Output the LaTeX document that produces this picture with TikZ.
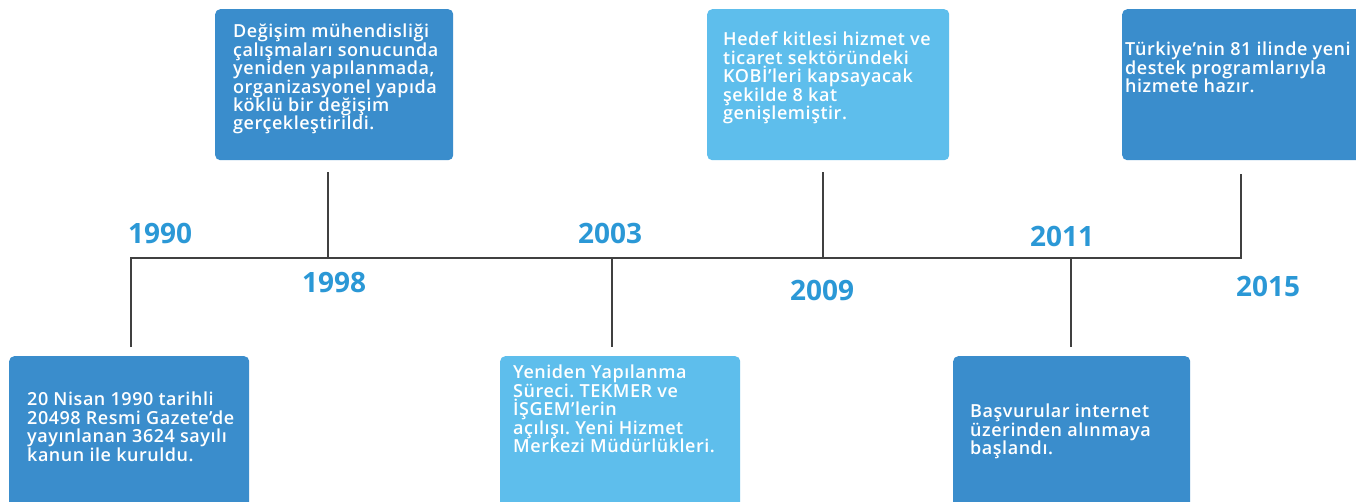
\documentclass[tikz,border=0pt]{standalone}
\usepackage{fontspec}
\setmainfont{Open Sans}
\newfontfamily\boxfont{Open Sans}[BoldFont={Open Sans Semibold}, LetterSpace=3]
\usepackage{tikz}
\usetikzlibrary{positioning,calc}
\definecolor{tlblue}{RGB}{58,141,204}
\definecolor{tllightblue}{RGB}{94,190,236}
\definecolor{tlyear}{RGB}{43,152,214}
\definecolor{tlgray}{RGB}{64,64,64}
\tikzstyle{darkbox} = [rectangle, rounded corners=5pt, fill=tlblue, anchor=north west, inner sep=0pt]
\tikzstyle{lightbox} = [darkbox, fill=tllightblue]
\tikzstyle{boxtext} = [anchor=north west, align=left, inner sep=0pt, text=white, font=\boxfont\bfseries\fontsize{18}{18.4}\selectfont]
\tikzstyle{yearlabel} = [text=tlyear, inner sep=0pt, font=\bfseries\fontsize{28}{30}\selectfont]
\tikzstyle{tickline} = [line width=2.2pt, color=tlgray]
\frenchspacing

\begin{document}
\begin{tikzpicture}[x=1pt,y=-1pt]
\clip (0,0) rectangle (1356,502);
\fill[white] (0,0) rectangle (1356,502);

% time line
\coordinate (t1990) at (131,258);
\coordinate (t1998) at (328,258);
\coordinate (t2003) at (612,258);
\coordinate (t2009) at (823,258);
\coordinate (t2011) at (1071,258);
\coordinate (t2015) at (1241,258);
\coordinate (e1990) at (131,347);
\coordinate (e1998) at (328,172);
\coordinate (e2003) at (612,347);
\coordinate (e2009) at (823,172);
\coordinate (e2011) at (1071,347);
\coordinate (e2015) at (1241,174);
\draw[tickline] (e1990) -- (t1990) -- (t2015) -- (e2015);
\draw[tickline] (t1998) -- (e1998);
\draw[tickline] (t2003) -- (e2003);
\draw[tickline] (t2009) -- (e2009);
\draw[tickline] (t2011) -- (e2011);

% years
\node[yearlabel] (y1990) at (160,233) {1990};
\node[yearlabel] (y1998) at (334,283) {1998};
\node[yearlabel] (y2003) at (610,233) {2003};
\node[yearlabel] (y2009) at (822,290) {2009};
\node[yearlabel] (y2011) at (1062,236) {2011};
\node[yearlabel] (y2015) at (1268,286) {2015};

% 1990
\node[darkbox, minimum width=240, minimum height=170] (b1990) at (9,356) {};
\node[boxtext] (x1990) at ([shift={(18,36)}]b1990.north west)
  {20 Nisan 1990 tarihli\\20498 Resmi Gazete’de\\yayınlanan 3624 sayılı\\kanun ile kuruldu.};

% 1998
\node[darkbox, minimum width=238, minimum height=151] (b1998) at (215,9) {};
\node[boxtext] (x1998) at ([shift={(18,15)}]b1998.north west)
  {Değişim mühendisliği\\çalışmaları sonucunda\\yeniden yapılanmada,\\organizasyonel yapıda\\köklü bir değişim\\gerçekleştirildi.};

% 2003
\node[lightbox, minimum width=240, minimum height=170] (b2003) at (500,356) {};
\node[boxtext] (x2003) at ([shift={(13,9)}]b2003.north west)
  {Yeniden Yapılanma\\Süreci. TEKMER ve\\İŞGEM’lerin\\açılışı. Yeni Hizmet\\Merkezi Müdürlükleri.};

% 2009
\node[lightbox, minimum width=242, minimum height=151] (b2009) at (707,9) {};
\node[boxtext] (x2009) at ([shift={(16,23)}]b2009.north west)
  {Hedef kitlesi hizmet ve\\ticaret sektöründeki\\KOBİ’leri kapsayacak\\şekilde 8 kat\\genişlemiştir.};

% 2011
\node[darkbox, minimum width=237, minimum height=170] (b2011) at (953,356) {};
\node[boxtext] (x2011) at ([shift={(17,48)}]b2011.north west)
  {Başvurular internet\\üzerinden alınmaya\\başlandı.};

% 2015
\node[darkbox, minimum width=250, minimum height=151] (b2015) at (1122,9) {};
\node[boxtext] (x2015) at ([shift={(3,33)}]b2015.north west)
  {Türkiye’nin 81 ilinde yeni\\destek programlarıyla\\hizmete hazır.};
\end{tikzpicture}
\end{document}
